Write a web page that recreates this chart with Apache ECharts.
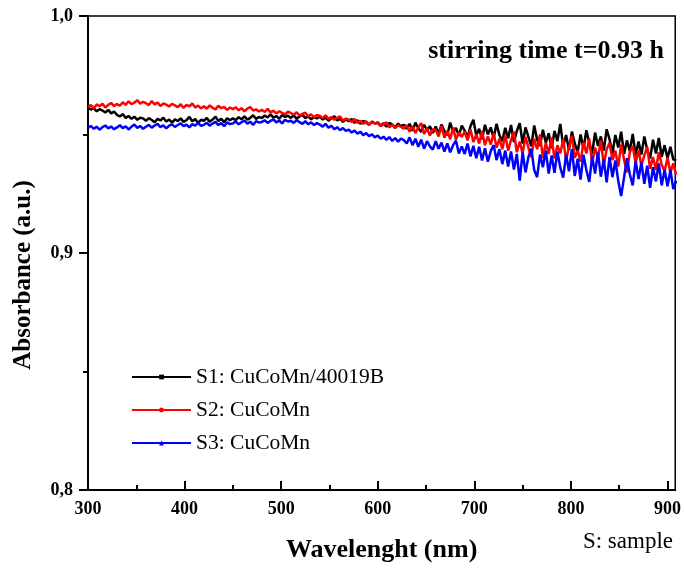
<!DOCTYPE html>
<html>
<head>
<meta charset="utf-8">
<script src="https://cdn.jsdelivr.net/npm/echarts@6/dist/echarts.min.js"></script>
<style>html,body{margin:0;padding:0;background:#fff;}#chart{width:684px;height:568px;}</style>
</head>
<body>
<div id="chart"></div>
<script>
// Wavelength grid (nm)
const wavelengths = [
300,303,306,309,312,315,318,321,324,327,
330,333,336,339,342,345,348,351,354,357,
360,363,366,369,372,375,378,381,384,387,
390,393,396,399,402,405,408,411,414,417,
420,423,426,429,432,435,438,441,444,447,
450,453,456,459,462,465,468,471,474,477,
480,483,486,489,492,495,498,501,504,507,
510,513,516,519,522,525,528,531,534,537,
540,543,546,549,552,555,558,561,564,567,
570,573,576,579,582,585,588,591,594,597,
600,603,606,609,612,615,618,621,624,627,
630,633,636,639,642,645,648,651,654,657,
660,663,666,669,672,675,678,681,684,687,
690,693,696,699,702,705,708,711,714,717,
720,723,726,729,732,735,738,741,744,747,
750,753,756,759,762,765,768,771,774,777,
780,783,786,789,792,795,798,801,804,807,
810,813,816,819,822,825,828,831,834,837,
840,843,846,849,852,855,858,861,864,867,
870,873,876,879,882,885,888,891,894,897,
900,903,906,909];

const s1Values = [
0.9614,0.9605,0.9611,0.9598,0.9607,0.9601,0.9593,0.9604,0.9589,0.9597,
0.9583,0.9576,0.9586,0.9570,0.9578,0.9566,0.9575,0.9562,0.9571,0.9568,
0.9558,0.9569,0.9561,0.9552,0.9566,0.9559,0.9571,0.9555,0.9563,0.9550,
0.9564,0.9557,0.9568,0.9553,0.9561,0.9574,0.9556,0.9565,0.9549,0.9562,
0.9558,0.9570,0.9554,0.9563,0.9575,0.9557,0.9566,0.9552,0.9569,0.9560,
0.9568,0.9561,0.9573,0.9564,0.9577,0.9563,0.9570,0.9581,0.9566,0.9574,
0.9569,0.9580,0.9572,0.9585,0.9571,0.9578,0.9566,0.9582,0.9574,0.9579,
0.9570,0.9581,0.9567,0.9576,0.9584,0.9569,0.9577,0.9564,0.9574,0.9568,
0.9575,0.9563,0.9571,0.9558,0.9569,0.9577,0.9560,0.9566,0.9553,0.9564,
0.9556,0.9565,0.9549,0.9560,0.9545,0.9557,0.9551,0.9541,0.9555,0.9546,
0.9551,0.9538,0.9547,0.9533,0.9549,0.9542,0.9530,0.9546,0.9535,0.9541,
0.9524,0.9545,0.9516,0.9550,0.9527,0.9510,0.9541,0.9519,0.9535,0.9506,
0.9534,0.9503,0.9542,0.9515,0.9497,0.9550,0.9510,0.9528,0.9494,0.9538,
0.9516,0.9488,0.9535,0.9562,0.9496,0.9524,0.9480,0.9541,0.9500,0.9530,
0.9485,0.9545,0.9497,0.9472,0.9528,0.9484,0.9540,0.9468,0.9515,0.9548,
0.9462,0.9530,0.9490,0.9450,0.9538,0.9478,0.9452,0.9520,0.9465,0.9505,
0.9442,0.9515,0.9472,0.9545,0.9450,0.9498,0.9435,0.9512,0.9462,0.9425,
0.9500,0.9440,0.9518,0.9465,0.9420,0.9508,0.9452,0.9492,0.9432,0.9522,
0.9480,0.9420,0.9498,0.9445,0.9512,0.9418,0.9475,0.9430,0.9502,0.9412,
0.9470,0.9415,0.9492,0.9435,0.9398,0.9478,0.9420,0.9485,0.9405,0.9455,
0.9400,0.9448,0.9395,0.9390];

const s2Values = [
0.9616,0.9624,0.9611,0.9627,0.9619,0.9630,0.9614,0.9625,0.9633,0.9620,
0.9629,0.9621,0.9636,0.9625,0.9640,0.9628,0.9634,0.9645,0.9630,0.9638,
0.9632,0.9624,0.9641,0.9627,0.9635,0.9620,0.9631,0.9626,0.9618,0.9629,
0.9623,0.9615,0.9628,0.9612,0.9625,0.9619,0.9631,0.9614,0.9622,0.9610,
0.9619,0.9609,0.9623,0.9613,0.9606,0.9621,0.9611,0.9617,0.9604,0.9614,
0.9607,0.9615,0.9602,0.9611,0.9598,0.9609,0.9616,0.9601,0.9606,0.9597,
0.9604,0.9595,0.9608,0.9593,0.9600,0.9589,0.9598,0.9591,0.9585,0.9596,
0.9591,0.9583,0.9594,0.9580,0.9587,0.9592,0.9576,0.9585,0.9573,0.9582,
0.9579,0.9569,0.9581,0.9566,0.9574,0.9562,0.9570,0.9576,0.9559,0.9567,
0.9563,0.9553,0.9566,0.9549,0.9558,0.9545,0.9556,0.9541,0.9552,0.9547,
0.9548,0.9535,0.9544,0.9551,0.9530,0.9541,0.9527,0.9539,0.9532,0.9525,
0.9540,0.9512,0.9535,0.9506,0.9530,0.9548,0.9502,0.9526,0.9496,0.9522,
0.9520,0.9492,0.9535,0.9486,0.9515,0.9480,0.9530,0.9478,0.9510,0.9490,
0.9512,0.9475,0.9522,0.9468,0.9500,0.9462,0.9515,0.9455,0.9492,0.9458,
0.9505,0.9445,0.9482,0.9438,0.9498,0.9432,0.9478,0.9512,0.9425,0.9470,
0.9420,0.9490,0.9445,0.9405,0.9482,0.9438,0.9500,0.9400,0.9465,0.9418,
0.9488,0.9398,0.9455,0.9420,0.9480,0.9392,0.9446,0.9495,0.9402,0.9432,
0.9385,0.9468,0.9420,0.9482,0.9378,0.9445,0.9400,0.9475,0.9370,0.9438,
0.9465,0.9392,0.9432,0.9365,0.9458,0.9395,0.9340,0.9425,0.9452,0.9378,
0.9435,0.9368,0.9412,0.9448,0.9355,0.9405,0.9350,0.9425,0.9372,0.9345,
0.9402,0.9340,0.9378,0.9330];

const s3Values = [
0.9528,0.9536,0.9524,0.9533,0.9520,0.9531,0.9538,0.9526,0.9534,0.9522,
0.9530,0.9539,0.9527,0.9535,0.9521,0.9533,0.9542,0.9528,0.9536,0.9524,
0.9533,0.9541,0.9529,0.9538,0.9545,0.9531,0.9539,0.9526,0.9537,0.9543,
0.9532,0.9540,0.9547,0.9535,0.9542,0.9530,0.9544,0.9537,0.9549,0.9536,
0.9541,0.9550,0.9537,0.9546,0.9553,0.9540,0.9548,0.9535,0.9551,0.9544,
0.9547,0.9555,0.9543,0.9552,0.9559,0.9546,0.9554,0.9541,0.9556,0.9550,
0.9553,0.9560,0.9549,0.9558,0.9564,0.9551,0.9559,0.9547,0.9562,0.9555,
0.9558,0.9549,0.9561,0.9552,0.9545,0.9556,0.9543,0.9551,0.9540,0.9548,
0.9542,0.9533,0.9545,0.9528,0.9537,0.9522,0.9531,0.9518,0.9527,0.9515,
0.9521,0.9508,0.9517,0.9503,0.9512,0.9497,0.9506,0.9493,0.9501,0.9488,
0.9496,0.9482,0.9491,0.9477,0.9489,0.9473,0.9485,0.9470,0.9483,0.9476,
0.9462,0.9488,0.9455,0.9482,0.9448,0.9478,0.9440,0.9472,0.9450,0.9436,
0.9472,0.9440,0.9466,0.9428,0.9462,0.9425,0.9455,0.9474,0.9420,0.9450,
0.9418,0.9462,0.9408,0.9452,0.9400,0.9448,0.9390,0.9442,0.9385,0.9430,
0.9455,0.9392,0.9438,0.9375,0.9432,0.9365,0.9428,0.9352,0.9418,0.9305,
0.9425,0.9340,0.9405,0.9440,0.9350,0.9320,0.9415,0.9362,0.9432,0.9335,
0.9412,0.9338,0.9428,0.9360,0.9318,0.9415,0.9345,0.9438,0.9325,0.9398,
0.9310,0.9415,0.9350,0.9300,0.9408,0.9335,0.9425,0.9322,0.9395,0.9298,
0.9405,0.9320,0.9390,0.9305,0.9240,0.9318,0.9400,0.9332,0.9285,0.9388,
0.9312,0.9382,0.9292,0.9368,0.9275,0.9362,0.9302,0.9378,0.9285,0.9352,
0.9282,0.9350,0.9270,0.9305];

const seriesNames = ['S1: CuCoMn/40019B', 'S2: CuCoMn', 'S3: CuCoMn'];
const xMajorTicks = [300, 400, 500, 600, 700, 800, 900];
const xMinorTicks = [350, 450, 550, 650, 750, 850];
const yTicks = [0.8, 0.9, 1.0];

const FONT = '"Liberation Serif", "Times New Roman", serif';
const pairs = v => wavelengths.map((w, i) => [w, v[i]]);

const chart = echarts.init(document.getElementById('chart'), null, {renderer: 'canvas'});
const option = {
  animation: false,
  backgroundColor: '#fff',
  grid: {left: 88, right: 7, top: 16, bottom: 71, show: true, borderColor: '#000', borderWidth: 1.5, backgroundColor: 'transparent'},
  xAxis: [{
    type: 'value', min: 300, max: 908, interval: 100,
    name: 'Wavelenght (nm)', nameLocation: 'middle', nameGap: 47,
    nameTextStyle: {fontFamily: FONT, fontWeight: 'bold', fontSize: 26, color: '#000'},
    axisLine: {show: true, lineStyle: {color: '#000', width: 2}},
    axisTick: {show: true, inside: true, length: 9, lineStyle: {color: '#000', width: 2}, customValues: xMajorTicks},
    axisLabel: {fontFamily: FONT, fontWeight: 'bold', fontSize: 18, color: '#000', margin: 10, customValues: xMajorTicks},
    splitLine: {show: false}
  }, {
    type: 'value', min: 300, max: 908, position: 'bottom',
    axisLine: {show: false},
    axisTick: {show: true, inside: true, length: 5, lineStyle: {color: '#000', width: 2}, customValues: xMinorTicks},
    axisLabel: {show: false},
    splitLine: {show: false}
  }],
  yAxis: {
    type: 'value', min: 0.8, max: 1.0, interval: 0.1,
    axisLine: {show: true, lineStyle: {color: '#000', width: 2}},
    axisTick: {show: true, inside: false, length: 9, lineStyle: {color: '#000', width: 2}},
    minorTick: {show: true, splitNumber: 2, length: 5, lineStyle: {color: '#000', width: 2}},
    axisLabel: {fontFamily: FONT, fontWeight: 'bold', fontSize: 18, color: '#000', margin: 15,
      formatter: v => {
        const t = yTicks.find(y => Math.abs(y - v) < 1e-6);
        return t === undefined ? '' : t.toFixed(1).replace('.', ',');
      }},
    splitLine: {show: false}
  },
  legend: {
    orient: 'vertical', left: 131, top: 366, padding: 0,
    itemWidth: 59, itemHeight: 6, itemGap: 11,
    textStyle: {fontFamily: FONT, fontSize: 21.5, color: '#000', lineHeight: 22},
    data: seriesNames
  },
  series: [
    {name: seriesNames[0], type: 'line', data: pairs(s1Values), showSymbol: false, symbol: 'rect', symbolSize: 6,
      lineStyle: {color: '#000000', width: 2.5}, itemStyle: {color: '#000000'}},
    {name: seriesNames[1], type: 'line', data: pairs(s2Values), showSymbol: false, symbol: 'circle', symbolSize: 6,
      lineStyle: {color: '#ff0000', width: 2.5}, itemStyle: {color: '#ff0000'}},
    {name: seriesNames[2], type: 'line', data: pairs(s3Values), showSymbol: false, symbol: 'triangle', symbolSize: 6,
      lineStyle: {color: '#0000ff', width: 2.5}, itemStyle: {color: '#0000ff'}}
  ],
  graphic: [
    {type: 'text', right: 20, top: 38, style: {text: 'stirring time t=0.93 h', font: 'bold 26px ' + FONT, fill: '#000'}},
    {type: 'text', right: 11, top: 530, style: {text: 'S: sample', font: '23px ' + FONT, fill: '#000'}},
    {type: 'text', x: 24, y: 275, rotation: Math.PI / 2,
      style: {text: 'Absorbance (a.u.)', font: 'bold 25px ' + FONT, fill: '#000', align: 'center', verticalAlign: 'middle'}}
  ]
};
chart.setOption(option);
</script>
</body>
</html>
